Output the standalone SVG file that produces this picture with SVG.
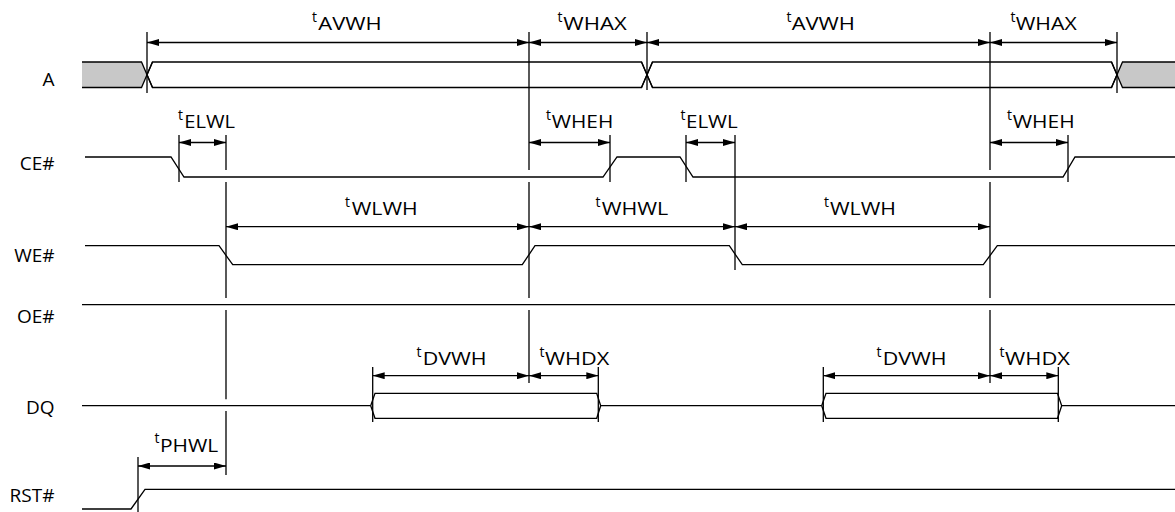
<svg xmlns="http://www.w3.org/2000/svg" width="1175" height="512" viewBox="0 0 1175 512">
<style>
.sig{fill:none;stroke:#000;stroke-width:1.3;stroke-linejoin:miter}
.bus{fill:#fff;stroke:#000;stroke-width:1.3}
.gray{fill:#c8c8c8;stroke:none}
.tick{fill:none;stroke:#000;stroke-width:1.3}
.dim{fill:none;stroke:#000;stroke-width:1.3;marker-start:url(#ah);marker-end:url(#ah)}
.name{font-family:"Open Sans","Noto Sans",sans-serif;font-size:19px;fill:#000;text-anchor:end}
.lbl{font-family:"Open Sans","Noto Sans",sans-serif;font-size:17.5px;fill:#000}
.sup{font-size:14px}
</style>
<defs>
<marker id="ah" viewBox="0 0 12 7" markerWidth="12" markerHeight="7" refX="12" refY="3.5" orient="auto-start-reverse" markerUnits="userSpaceOnUse">
<path d="M0,0 L12,3.5 L0,7 Z" fill="#000"/>
</marker>
</defs>
<rect width="1175" height="512" fill="#fff"/>

<g id="signal-names">
<text class="name" x="54.5" y="86">A</text>
<text class="name" x="54.5" y="169.5">CE#</text>
<text class="name" x="54.5" y="261.5">WE#</text>
<text class="name" x="54.5" y="323">OE#</text>
<text class="name" x="54.5" y="414">DQ</text>
<text class="name" x="54.5" y="502">RST#</text>
</g>

<g id="sig-A">
<polygon class="gray" points="82,62 141.5,62 147,74.75 141.5,87.5 82,87.5"/>
<polygon class="gray" points="1117,74.75 1122.5,62 1175,62 1175,87.5 1122.5,87.5"/>
<polygon class="bus" points="147,74.75 152.5,62 641.5,62 647,74.75 641.5,87.5 152.5,87.5"/>
<polygon class="bus" points="647,74.75 652.5,62 1111.5,62 1117,74.75 1111.5,87.5 652.5,87.5"/>
<path class="sig" d="M82,62 H141.5 L152.5,87.5 M82,87.5 H141.5 L152.5,62 M1111.5,62 L1122.5,87.5 H1175 M1111.5,87.5 L1122.5,62 H1175 M641.5,62 L652.5,87.5 M641.5,87.5 L652.5,62"/>
</g>

<g id="sig-CE">
<path class="sig" d="M85,157 H171 L184,177 H603 L617,157 H680 L693,177 H1063 L1075,157 H1175"/>
</g>

<g id="sig-WE">
<path class="sig" d="M85,245.7 H219 L232.7,264.7 H522.3 L535,245.7 H729.3 L742.3,264.7 H983.3 L997.3,245.7 H1175"/>
</g>

<g id="sig-OE">
<path class="sig" d="M82,304.7 H1175"/>
</g>

<g id="sig-DQ">
<path class="sig" d="M82,405.7 H370.7 M600.7,405.7 H821.7 M1061.7,405.7 H1175"/>
<polygon class="bus" points="370.7,405.7 375,393.3 596.7,393.3 600.7,405.7 596.7,418.3 375,418.3"/>
<polygon class="bus" points="821.7,405.7 826,393.3 1057.5,393.3 1061.7,405.7 1057.5,418.3 826,418.3"/>
</g>

<g id="sig-RST">
<path class="sig" d="M82,509 H131 L145,489.3 H1175"/>
</g>

<g id="connectors">
<path class="tick" d="M147,32 V93 M647,32 V90 M1117,32 V93
M529,32 V170 M529,182 V298 M529,310 V383
M990,32 V170 M990,182 V298 M990,310 V383
M226,135 V170 M226,182 V298 M226,310 V399.3 M226,411 V475
M179,135 V182 M610,135 V182 M686,135 V182 M1068,135 V182
M735,135 V270
M372.7,367 V422 M598.3,367 V422 M823.3,367 V422 M1058.3,367 V422
M138,457 V512"/>
<path class="dim" d="M147,42.5 H529"/>
<path class="dim" d="M529,42.5 H647"/>
<path class="dim" d="M647,42.5 H990"/>
<path class="dim" d="M990,42.5 H1117"/>
<path class="dim" d="M179,142.5 H226"/>
<path class="dim" d="M529,142.5 H610"/>
<path class="dim" d="M686,142.5 H735"/>
<path class="dim" d="M990,142.5 H1068"/>
<path class="dim" d="M226,226.7 H529"/>
<path class="dim" d="M529,226.7 H735"/>
<path class="dim" d="M735,226.7 H990"/>
<path class="dim" d="M372.7,375.7 H529"/>
<path class="dim" d="M529,375.7 H598.3"/>
<path class="dim" d="M823.3,375.7 H990"/>
<path class="dim" d="M990,375.7 H1058.3"/>
<path class="dim" d="M138,466 H226"/>
</g>

<g id="timing-labels">
<text class="lbl"><tspan class="sup" x="312" y="21.7">t</tspan><tspan x="318.3" y="30" textLength="63.4" lengthAdjust="spacingAndGlyphs">AVWH</tspan></text>
<text class="lbl"><tspan class="sup" x="557.5" y="21.7">t</tspan><tspan x="563.3" y="30" textLength="63.4" lengthAdjust="spacingAndGlyphs">WHAX</tspan></text>
<text class="lbl"><tspan class="sup" x="786.5" y="21.7">t</tspan><tspan x="791.7" y="30" textLength="63.3" lengthAdjust="spacingAndGlyphs">AVWH</tspan></text>
<text class="lbl"><tspan class="sup" x="1010.5" y="21.7">t</tspan><tspan x="1015.7" y="30" textLength="61" lengthAdjust="spacingAndGlyphs">WHAX</tspan></text>

<text class="lbl"><tspan class="sup" x="178" y="120">t</tspan><tspan x="184.3" y="128" textLength="50.7" lengthAdjust="spacingAndGlyphs">ELWL</tspan></text>
<text class="lbl"><tspan class="sup" x="546" y="120">t</tspan><tspan x="551.7" y="128" textLength="61.6" lengthAdjust="spacingAndGlyphs">WHEH</tspan></text>
<text class="lbl"><tspan class="sup" x="680.5" y="120">t</tspan><tspan x="686" y="128" textLength="51.7" lengthAdjust="spacingAndGlyphs">ELWL</tspan></text>
<text class="lbl"><tspan class="sup" x="1007" y="120">t</tspan><tspan x="1012.7" y="128" textLength="62" lengthAdjust="spacingAndGlyphs">WHEH</tspan></text>

<text class="lbl"><tspan class="sup" x="345" y="206.7">t</tspan><tspan x="351.7" y="215" textLength="66" lengthAdjust="spacingAndGlyphs">WLWH</tspan></text>
<text class="lbl"><tspan class="sup" x="595.5" y="206.7">t</tspan><tspan x="601.7" y="215" textLength="66.6" lengthAdjust="spacingAndGlyphs">WHWL</tspan></text>
<text class="lbl"><tspan class="sup" x="824" y="206.7">t</tspan><tspan x="830" y="215" textLength="66" lengthAdjust="spacingAndGlyphs">WLWH</tspan></text>

<text class="lbl"><tspan class="sup" x="416.5" y="356.7">t</tspan><tspan x="422.7" y="365" textLength="64" lengthAdjust="spacingAndGlyphs">DVWH</tspan></text>
<text class="lbl"><tspan class="sup" x="539.5" y="356.7">t</tspan><tspan x="545" y="365" textLength="64.3" lengthAdjust="spacingAndGlyphs">WHDX</tspan></text>
<text class="lbl"><tspan class="sup" x="876.5" y="356.7">t</tspan><tspan x="882.7" y="365" textLength="64" lengthAdjust="spacingAndGlyphs">DVWH</tspan></text>
<text class="lbl"><tspan class="sup" x="999.5" y="356.7">t</tspan><tspan x="1005" y="365" textLength="65" lengthAdjust="spacingAndGlyphs">WHDX</tspan></text>

<text class="lbl"><tspan class="sup" x="154.5" y="443.4">t</tspan><tspan x="160" y="451.7" textLength="58.3" lengthAdjust="spacingAndGlyphs">PHWL</tspan></text>
</g>
</svg>
